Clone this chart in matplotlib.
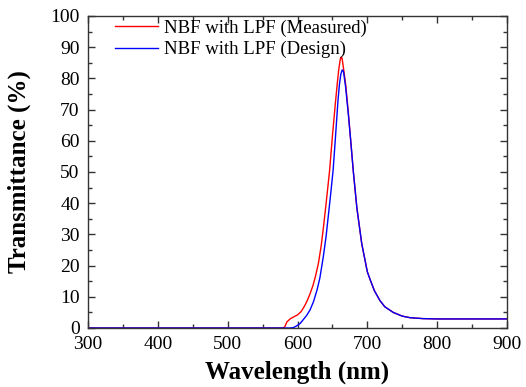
import matplotlib
matplotlib.use("Agg")
import matplotlib.pyplot as plt
import numpy as np

# Measured curve (NBF with LPF)
wl_meas = [300, 400, 500, 570, 580, 582, 585, 590, 595, 600, 605, 610, 614, 618, 622, 626, 630,
           634, 637, 641, 646, 650, 654, 657, 659, 661, 662, 663, 664, 666, 669, 673, 676,
           680, 685, 692, 700, 704, 710, 718, 725, 737, 750, 761, 780, 800, 850, 900]
t_meas = [0, 0, 0, 0, 0, 0.5, 2.0, 3.0, 3.6, 4.2, 5.2, 7.0, 8.8, 11.0, 13.5, 16.8, 20.8,
          26.5, 32.0, 40.0, 50.6, 61.5, 71.5, 78.5, 82.7, 85.8, 86.7, 86.8, 86.2, 83.0, 78.0, 68.5, 60.5,
          50.0, 38.5, 27.0, 18.0, 15.5, 12.0, 8.8, 6.8, 5.0, 3.8, 3.3, 3.0, 2.9, 2.9, 2.9]

# Design curve (NBF with LPF)
wl_des = [300, 400, 500, 580, 590, 595, 599, 604, 608, 613, 618, 623, 628, 632, 637,
          641, 644, 648, 651, 654, 658, 660, 662, 664, 665, 666, 669, 673, 676,
          680, 685, 692, 700, 704, 710, 718, 725, 737, 750, 761, 780, 800, 850, 900]
t_des = [0, 0, 0, 0, 0, 0.2, 0.7, 1.5, 2.6, 4.0, 5.8, 8.5, 12.2, 16.0, 22.9,
         29.5, 35.7, 44.0, 50.6, 60.0, 73.0, 78.0, 81.3, 82.7, 82.6, 82.0, 77.0, 68.0, 60.5,
         50.0, 38.5, 27.0, 18.0, 15.5, 12.0, 8.8, 6.8, 5.0, 3.8, 3.3, 3.0, 2.9, 2.9, 2.9]

xticks = [300, 400, 500, 600, 700, 800, 900]
yticks = [0, 10, 20, 30, 40, 50, 60, 70, 80, 90, 100]

plt.rcParams['font.family'] = ['Liberation Serif', 'DejaVu Serif']

fig = plt.figure(figsize=(5.26, 3.87), dpi=100)
ax = fig.add_axes([0.1673, 0.1525, 0.7966, 0.8062])

ax.plot(wl_meas, t_meas, color='#ff0000', lw=1.0, label='NBF with LPF (Measured)')
ax.plot(wl_des, t_des, color='#0000ff', lw=1.0, label='NBF with LPF (Design)')

ax.set_xlim(300, 900)
ax.set_ylim(0, 100)
ax.set_xticks(xticks)
ax.set_yticks(yticks)
ax.set_xticks(np.arange(350, 900, 100), minor=True)
ax.set_yticks(np.arange(5, 100, 10), minor=True)
ax.tick_params(which='both', direction='in', top=True, right=True, labelsize=14, color='#333333')
ax.tick_params(which='major', length=5, width=1)
ax.tick_params(axis='y', which='major', pad=6)
ax.tick_params(axis='x', which='major', pad=6)
ax.tick_params(which='minor', length=3, width=1)
for s in ax.spines.values():
    s.set_color('#333333')
    s.set_linewidth(1.0)

ax.set_xlabel('Wavelength (nm)', fontsize=18, fontweight='bold', labelpad=5)
ax.set_ylabel('Transmittance (%)', fontsize=18, fontweight='bold', labelpad=14)

ax.legend(loc='upper left', bbox_to_anchor=(0.064, 0.988), frameon=False, fontsize=13.5,
          handlelength=2.3, handletextpad=0.3, labelspacing=0.22, borderpad=0, borderaxespad=0)

fig.savefig('out.png', dpi=100)
